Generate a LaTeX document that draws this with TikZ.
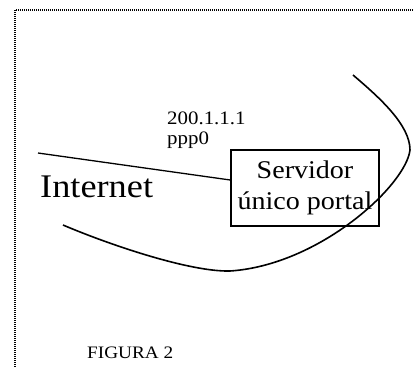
\documentclass[tikz,border=0pt]{standalone}
\usepackage{fontspec}
\setmainfont[FakeStretch=1.1]{Liberation Serif}
\usetikzlibrary{calc}
\tikzset{
  frame/.style={line width=1.1bp, dash pattern=on 1bp off 1bp},
  server/.style={draw, line width=1.5bp, minimum width=148bp, minimum height=76bp, inner sep=0pt, align=center, font=\fontsize{25.5bp}{31.5bp}\selectfont},
  link/.style={line width=1.3bp},
  cloud/.style={line width=1.6bp},
  lbl/.style={inner sep=0pt, anchor=base west}
}
\begin{document}
\begin{tikzpicture}[x=1bp,y=-1bp]
\useasboundingbox (0,0) rectangle (414,367);
% dotted frame
\draw[frame] (15,367) -- (15,10) -- (414,10);
% server box
\node[server] (box) at (305,188) {Servidor\\único portal};
% labels
\node[lbl, font=\fontsize{33bp}{38bp}\selectfont] (inet) at (40,197) {Internet};
\node[lbl, font=\fontsize{19bp}{20bp}\selectfont] (ip) at (167,124.5) {200.1.1.1};
\node[lbl, font=\fontsize{19bp}{20bp}\selectfont] (ppp) at (167,144.5) {ppp0};
\node[lbl, font=\fontsize{17.5bp}{20bp}\selectfont] (fig) at (87,358.5) {FIGURA 2};
% connector
\coordinate (lstart) at (38,153);
\draw[link] (lstart) -- ($(box.west)+(0,-8)$);
% cloud curve
\coordinate (c0) at (353,75);
\coordinate (c1) at (410,150);
\coordinate (c2) at (230,271);
\coordinate (c3) at (63,225);
\draw[cloud] (c0) .. controls (380,98) and (410,125) .. (c1)
  .. controls (406,185) and (320,265) .. (c2)
  .. controls (190,272) and (110,245) .. (c3);
\end{tikzpicture}
\end{document}
